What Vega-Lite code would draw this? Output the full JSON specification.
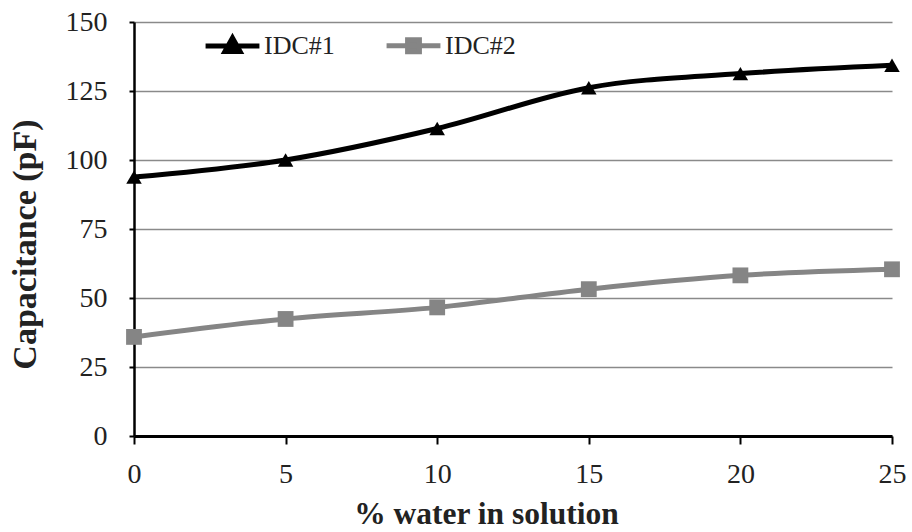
{
  "$schema": "https://vega.github.io/schema/vega-lite/v6.json",
  "autosize": {"type": "none"},
  "width": 758,
  "height": 414,
  "padding": {"left": 134, "top": 22, "right": 20, "bottom": 96},
  "background": "white",
  "config": {
    "font": "Liberation Serif",
    "view": {"stroke": null}
  },
  "data": {
    "values": [
      {"water": 0, "cap": 93.8, "series": "IDC#1"},
      {"water": 5, "cap": 100, "series": "IDC#1"},
      {"water": 10, "cap": 111.4, "series": "IDC#1"},
      {"water": 15, "cap": 126.2, "series": "IDC#1"},
      {"water": 20, "cap": 131.3, "series": "IDC#1"},
      {"water": 25, "cap": 134.3, "series": "IDC#1"},
      {"water": 0, "cap": 35.9, "series": "IDC#2"},
      {"water": 5, "cap": 42.4, "series": "IDC#2"},
      {"water": 10, "cap": 46.6, "series": "IDC#2"},
      {"water": 15, "cap": 53.2, "series": "IDC#2"},
      {"water": 20, "cap": 58.2, "series": "IDC#2"},
      {"water": 25, "cap": 60.4, "series": "IDC#2"}
    ]
  },
  "encoding": {
    "x": {
      "field": "water", "type": "quantitative",
      "scale": {"domain": [0, 25], "nice": false},
      "axis": {
        "title": "% water in solution", "values": [0, 5, 10, 15, 20, 25],
        "grid": false, "domainColor": "black", "domainWidth": 3,
        "tickColor": "black", "tickWidth": 2, "tickSize": 8,
        "labelFont": "Liberation Serif", "labelColor": "#222",
        "labelFontSize": 28, "labelPadding": 16, "labelFlush": false,
        "titleFont": "Liberation Serif", "titleColor": "#222",
        "titleFontSize": 31.5, "titleFontWeight": "bold",
        "titleX": 352, "titleY": 87, "titleBaseline": "alphabetic", "titleAlign": "center"
      }
    },
    "y": {
      "field": "cap", "type": "quantitative",
      "scale": {"domain": [0, 150], "nice": false},
      "axis": {
        "title": "Capacitance (pF)", "values": [0, 25, 50, 75, 100, 125, 150],
        "grid": true, "gridColor": "#8a8a8a", "gridWidth": 1.5,
        "domainColor": "black", "domainWidth": 2.5,
        "tickColor": "black", "tickWidth": 2, "tickSize": 5,
        "labelFont": "Liberation Serif", "labelColor": "#222",
        "labelFontSize": 28, "labelPadding": 22, "labelFlush": false,
        "titleFont": "Liberation Serif", "titleColor": "#222",
        "titleFontSize": 34, "titleFontWeight": "bold", "titlePadding": 23,
        "titleY": 222
      }
    },
    "color": {
      "field": "series", "type": "nominal",
      "scale": {"domain": ["IDC#1", "IDC#2"], "range": ["#000000", "#858585"]},
      "legend": {
        "title": null, "orient": "none", "direction": "horizontal",
        "legendX": 69, "legendY": -6,
        "labelFontSize": 26, "labelFont": "Liberation Serif", "labelColor": "#222",
        "symbolSize": 2900, "symbolStrokeWidth": 5, "labelOffset": 2, "columnPadding": 41,
        "encode": {
          "symbols": {
            "update": {
              "shape": {"signal": "datum.value === 'IDC#1' ? 'M-1,0L1,0M0,-0.3L0.28,0.2L-0.28,0.2Z' : 'M-1,0L1,0M-0.22,-0.22L0.22,-0.22L0.22,0.22L-0.22,0.22Z'"},
              "fill": {"signal": "datum.value === 'IDC#1' ? '#000000' : '#858585'"},
              "stroke": {"signal": "datum.value === 'IDC#1' ? '#000000' : '#858585'"},
              "strokeWidth": {"value": 5},
              "opacity": {"value": 1}
            }
          }
        }
      }
    }
  },
  "layer": [
    {"mark": {"type": "line", "interpolate": "monotone", "strokeWidth": 5}},
    {
      "transform": [{"filter": "datum.series === 'IDC#1'"}],
      "mark": {"type": "point", "shape": "triangle-up", "filled": true, "opacity": 1, "size": 240}
    },
    {
      "transform": [{"filter": "datum.series === 'IDC#2'"}],
      "mark": {"type": "point", "shape": "square", "filled": true, "opacity": 1, "size": 250}
    }
  ]
}
